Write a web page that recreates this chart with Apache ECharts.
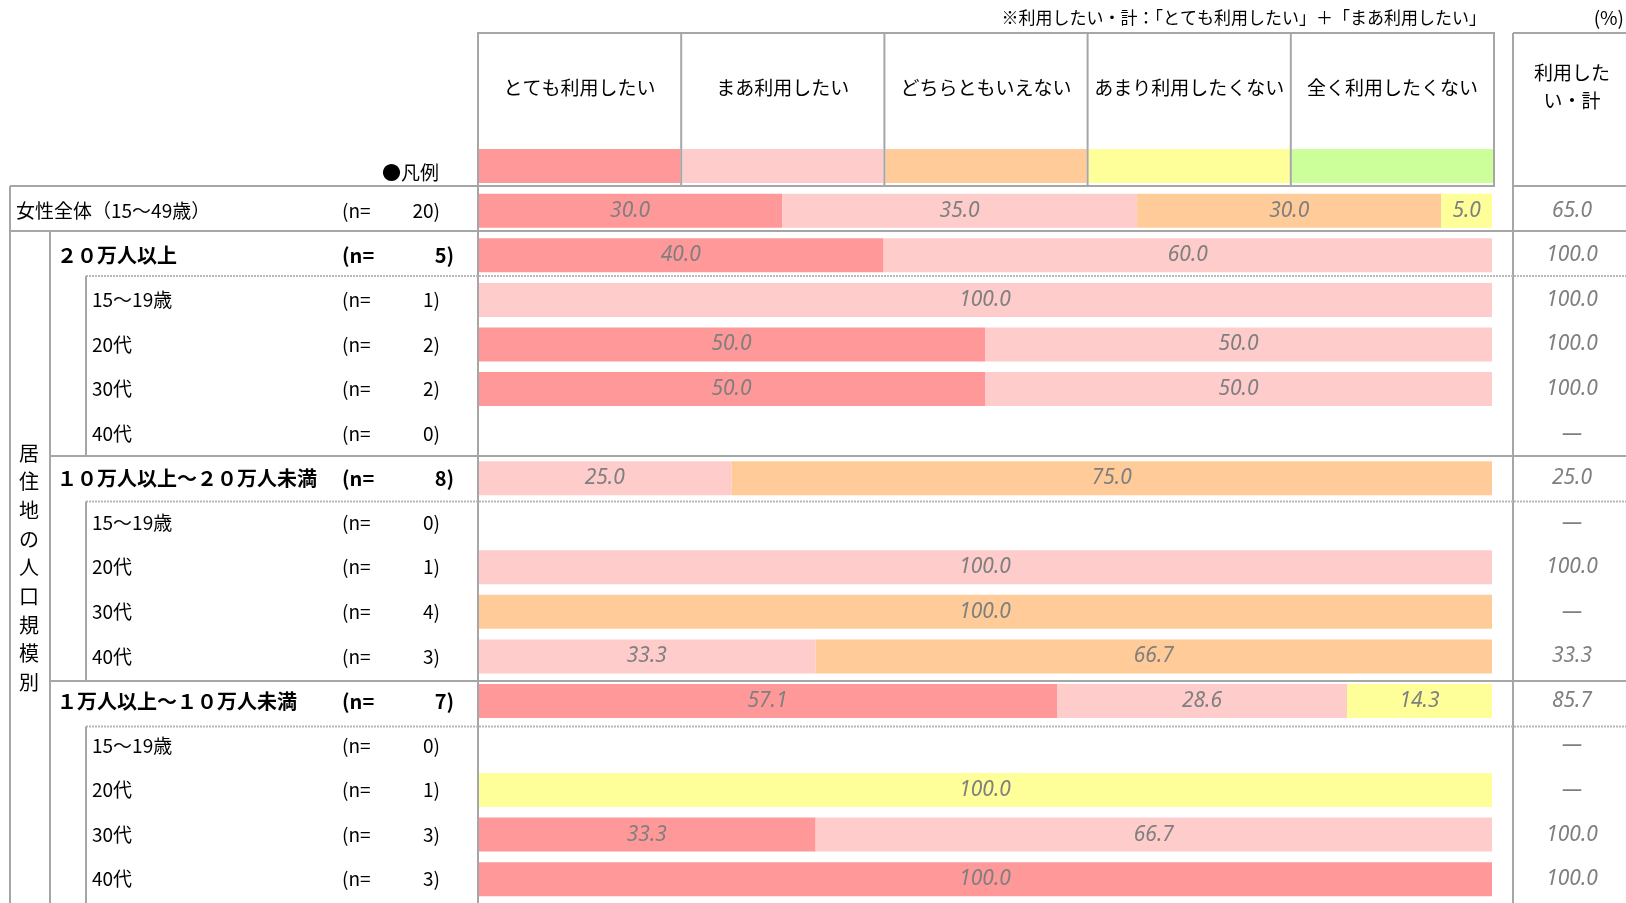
<!DOCTYPE html>
<html><head><meta charset="utf-8">
<script src="https://cdn.jsdelivr.net/npm/echarts@6/dist/echarts.min.js"></script>
<style>html,body{margin:0;padding:0;background:#fff}#c{width:1626px;height:903px}</style>
</head><body><div id="c"></div>
<script>
// ---------------- data ----------------
const categories = ['女性全体（15～49歳）','２０万人以上','15～19歳','20代','30代','40代','１０万人以上～２０万人未満','15～19歳','20代','30代','40代','１万人以上～１０万人未満','15～19歳','20代','30代','40代'];
const rowLevels = [0,1,2,2,2,2,1,2,2,2,2,1,2,2,2,2];
const sampleSizes = [20,5,1,2,2,0,8,0,1,4,3,7,0,1,3,3];
const seriesNames = ['とても利用したい','まあ利用したい','どちらともいえない','あまり利用したくない','全く利用したくない'];
const seriesColors = ['#FF9999','#FFCCCC','#FFCC99','#FFFF99','#CCFF99'];
const veryWant   = [30.0, 40.0,   0, 50.0, 50.0, 0,    0, 0,     0,     0,    0, 57.1, 0,     0, 33.3, 100.0];
const ratherWant = [35.0, 60.0, 100.0, 50.0, 50.0, 0, 25.0, 0, 100.0,     0, 33.3, 28.6, 0,     0, 66.7,     0];
const neither    = [30.0,    0,   0,    0,    0, 0, 75.0, 0,     0, 100.0, 66.7,    0, 0,     0,    0,     0];
const ratherNot  = [ 5.0,    0,   0,    0,    0, 0,    0, 0,     0,     0,    0, 14.3, 0, 100.0,    0,     0];
const notAtAll   = [   0,    0,   0,    0,    0, 0,    0, 0,     0,     0,    0,    0, 0,     0,    0,     0];
const wantTotal  = [65.0, 100.0, 100.0, 100.0, 100.0, null, 25.0, null, 100.0, 0, 33.3, 85.7, null, 0, 100.0, 100.0];
const seriesData = [veryWant, ratherWant, neither, ratherNot, notAtAll];
const noteText = '※利用したい・計：「とても利用したい」＋「まあ利用したい」';
const unitText = '(%)';
const legendTitle = '●凡例';
const totalHeader = ['利用した', 'い・計'];
const sideTitle = '居住地の人口規模別';

// ---------------- layout ----------------
const GRID_LEFT = 478, GRID_WIDTH = 1014, GRID_TOP = 188.5, ROW_PITCH = 44.56;
const HEADER_TOP = 33, HEADER_BOTTOM = 186, HEADER_RIGHT = 1494;
const COL_W = (HEADER_RIGHT - GRID_LEFT) / 5;
const TOTAL_X = 1513, TOTAL_CX = 1572, W = 1626, H = 903;
const LINE = '#a6a6a6', DOT = '#b8b8b8';
const FONT = '"Noto Sans CJK JP", "Noto Sans", sans-serif';
const NUMFONT = '"Noto Sans", "DejaVu Sans", sans-serif';
const LABEL_GRAY = '#7f7f7f';

const chart = echarts.init(document.getElementById('c'), null, {renderer: 'canvas', width: W, height: H});

function hline(x1, x2, y, dotted) {
  return {type: 'line', silent: true, z: 10, shape: {x1: x1, y1: y, x2: x2, y2: y},
    style: {stroke: dotted ? DOT : LINE, lineWidth: 2, lineDash: dotted ? [2, 1] : null}};
}
function vline(x, y1, y2) {
  return {type: 'line', silent: true, z: 10, shape: {x1: x, y1: y1, x2: x, y2: y2},
    style: {stroke: LINE, lineWidth: 2}};
}
function text(t, x, y, size, align, weight) {
  return {type: 'text', silent: true, z: 11, x: x, y: y,
    style: {text: t, fill: '#000', font: (weight || 'normal') + ' ' + size + 'px ' + FONT,
      align: align || 'center', verticalAlign: 'middle', textAlign: align || 'center', textVerticalAlign: 'middle'}};
}

const graphics = [];
// header box
graphics.push({type: 'rect', silent: true, z: 10, shape: {x: GRID_LEFT, y: HEADER_TOP, width: HEADER_RIGHT - GRID_LEFT, height: HEADER_BOTTOM - HEADER_TOP},
  style: {fill: null, stroke: LINE, lineWidth: 2}});
seriesNames.forEach(function (name, i) {
  const x0 = GRID_LEFT + i * COL_W;
  graphics.push({type: 'rect', silent: true, z: 9, shape: {x: x0 + 1, y: 149, width: COL_W - 2, height: 34}, style: {fill: seriesColors[i]}});
  if (i > 0) graphics.push(vline(x0, HEADER_TOP, HEADER_BOTTOM));
  graphics.push(text(name, x0 + COL_W / 2, 88, 19));
});
// total column header
graphics.push(hline(TOTAL_X, W, HEADER_TOP));
graphics.push(hline(TOTAL_X, W, HEADER_BOTTOM));
graphics.push(text(totalHeader[0], TOTAL_CX, 73, 19));
graphics.push(text(totalHeader[1], TOTAL_CX, 101, 19));
graphics.push(text(noteText, 1486, 18, 17, 'right'));
graphics.push(text(unitText, 1624, 18, 19, 'right'));
graphics.push(text(legendTitle, 439, 173, 19, 'right'));
// vertical separators
graphics.push(vline(GRID_LEFT, HEADER_TOP, H));
graphics.push(vline(TOTAL_X, HEADER_TOP, H));
// left table structure
graphics.push(hline(10, GRID_LEFT, HEADER_BOTTOM));
graphics.push(vline(10, HEADER_BOTTOM, H));
graphics.push(hline(10, W, 231));
graphics.push(vline(50, 231, H));
graphics.push(hline(86, W, 276, true));
graphics.push(vline(86, 276, 456));
graphics.push(hline(50, W, 456));
graphics.push(hline(86, W, 501.5, true));
graphics.push(vline(86, 501.5, 681));
graphics.push(hline(50, W, 681));
graphics.push(hline(86, W, 726.5, true));
graphics.push(vline(86, 726.5, H));
// vertical side title
Array.from(sideTitle).forEach(function (ch, i) {
  graphics.push(text(ch, 29, 453 + i * 28.7, 20));
});

const series = seriesNames.map(function (name, i) {
  return {
    name: name, type: 'bar', stack: 'total', barWidth: 34,
    data: seriesData[i],
    itemStyle: {color: seriesColors[i]},
    emphasis: {disabled: true},
    label: {show: true, position: 'inside', color: LABEL_GRAY, fontStyle: 'italic', fontSize: 21, fontFamily: NUMFONT,
      formatter: function (p) { return p.value > 0 ? Number(p.value).toFixed(1) : ''; }}
  };
});

const option = {
  animation: false,
  backgroundColor: '#fff',
  textStyle: {fontFamily: FONT},
  grid: {left: GRID_LEFT, top: GRID_TOP, width: GRID_WIDTH, height: ROW_PITCH * categories.length, containLabel: false, outerBoundsMode: 'none'},
  xAxis: {type: 'value', min: 0, max: 100, show: false},
  yAxis: [
    {type: 'category', data: categories, inverse: true, position: 'left',
      axisLine: {show: false}, axisTick: {show: false}, splitLine: {show: false},
      axisLabel: {interval: 0, margin: GRID_LEFT - 16, align: 'left', color: '#000', fontFamily: FONT,
        formatter: function (v, i) {
          const lv = rowLevels[i];
          return lv === 0 ? '{t|' + v + '}' : lv === 1 ? '{g|' + v + '}' : '{s|' + v + '}';
        },
        rich: {
          t: {fontSize: 19, fontFamily: FONT, color: '#000'},
          g: {fontSize: 20, fontWeight: 'bold', fontFamily: FONT, color: '#000', padding: [0, 0, 0, 41]},
          s: {fontSize: 19, fontFamily: FONT, color: '#000', padding: [0, 0, 0, 76]}
        }}},
    {type: 'category', data: categories, inverse: true, position: 'left',
      axisLine: {show: false}, axisTick: {show: false}, splitLine: {show: false},
      axisLabel: {interval: 0, margin: GRID_LEFT - 342, align: 'left', color: '#000', fontFamily: FONT,
        formatter: function (v, i) {
          const n = sampleSizes[i];
          return rowLevels[i] === 1 ? '{pb|(n=}{vb|' + n + ')}' : '{p|(n=}{v|' + n + ')}';
        },
        rich: {
          p: {width: 50, fontSize: 19, fontFamily: FONT, color: '#000'},
          v: {width: 48, align: 'right', fontSize: 19, fontFamily: FONT, color: '#000'},
          pb: {width: 50, fontSize: 20, fontWeight: 'bold', fontFamily: FONT, color: '#000'},
          vb: {width: 62, align: 'right', fontSize: 20, fontWeight: 'bold', fontFamily: FONT, color: '#000'}
        }}},
    {type: 'category', data: categories, inverse: true, position: 'right',
      axisLine: {show: false}, axisTick: {show: false}, splitLine: {show: false},
      axisLabel: {interval: 0, margin: TOTAL_CX - (GRID_LEFT + GRID_WIDTH), align: 'center',
        color: LABEL_GRAY, fontStyle: 'italic', fontSize: 21, fontFamily: NUMFONT,
        formatter: function (v, i) {
          const t = wantTotal[i];
          return (t == null || t === 0) ? '—' : t.toFixed(1);
        }}}
  ],
  series: series,
  graphic: {elements: graphics}
};
chart.setOption(option);
</script></body></html>
